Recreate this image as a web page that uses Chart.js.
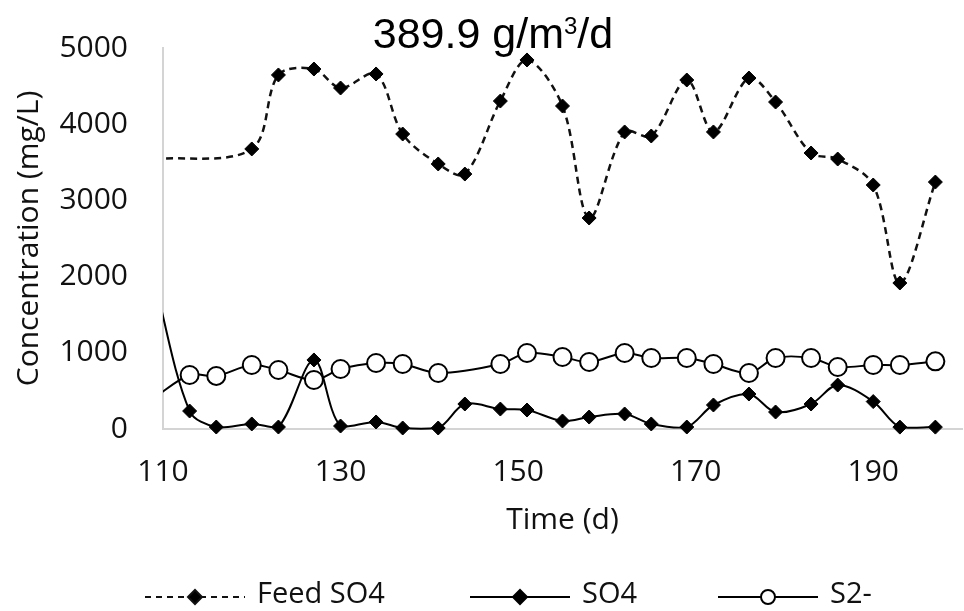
<!DOCTYPE html>
<html>
<head>
<meta charset="utf-8">
<script src="https://cdn.jsdelivr.net/npm/chart.js@4.4.0/dist/chart.umd.min.js"></script>
<style>
  html, body { margin: 0; padding: 0; background: #fff; overflow: hidden; }
  #wrap { width: 964px; height: 611px; }
</style>
</head>
<body>
<div id="wrap"><canvas id="chart"></canvas></div>
<script>
// axis
const xTicks = [110, 130, 150, 170, 190];
const xMin = 110, xMax = 200;
const yMin = 0, yMax = 5000, yStep = 1000;

// Feed SO4 (first point lies left of the axis and is clipped)
const feedDays = [109, 120, 123, 127, 130, 134, 137, 141, 144, 148, 151, 155, 158, 162, 165, 169, 172, 176, 179, 183, 186, 190, 193, 197];
const feedSO4  = [3540, 3675, 4646, 4724, 4475, 4659, 3871, 3478, 3346, 4304, 4843, 4239, 2769, 3898, 3845, 4580, 3898, 4606, 4291, 3622, 3543, 3202, 1916, 3241];

// SO4
const so4Days = [109, 113, 116, 120, 123, 127, 130, 134, 137, 141, 144, 148, 151, 155, 158, 162, 165, 169, 172, 176, 179, 183, 186, 190, 193, 197];
const so4     = [1960, 236, 26, 66, 26, 906, 39, 92, 13, 13, 328, 262, 249, 105, 157, 197, 66, 26, 315, 459, 223, 328, 577, 360, 25, 25];

// S2-
const s2Days = [109, 113, 116, 120, 123, 127, 130, 134, 137, 141, 148, 151, 155, 158, 162, 165, 169, 172, 176, 179, 183, 186, 190, 193, 197];
const s2     = [410, 709, 696, 840, 774, 643, 787, 866, 853, 735, 853, 997, 945, 879, 997, 932, 932, 853, 735, 932, 932, 814, 840, 840, 888];

const titleMain = '389.9 g/m';
const titleSup = '3';
const titleTail = '/d';

const pts = (xs, ys) => xs.map((x, i) => ({ x: x, y: ys[i] }));
const hideOutside = r => c => (c.raw && c.raw.x < xMin ? 0 : r);

const font = "'Open Sans', sans-serif";
const ink = '#111';

const extras = {
    id: 'extras',
    afterDraw(chart) {
        const ctx = chart.ctx;
        ctx.save();

        // title with superscript
        ctx.fillStyle = '#000';
        ctx.textBaseline = 'alphabetic';
        ctx.font = "43px 'Liberation Sans', Arial, sans-serif";
        const w1 = ctx.measureText(titleMain).width;
        const w3 = ctx.measureText(titleTail).width;
        ctx.font = "24px 'Liberation Sans', Arial, sans-serif";
        const w2 = ctx.measureText(titleSup).width;
        let tx = 493 - (w1 + w2 + w3) / 2;
        ctx.font = "43px 'Liberation Sans', Arial, sans-serif";
        ctx.fillText(titleMain, tx, 48);
        tx += w1;
        ctx.font = "24px 'Liberation Sans', Arial, sans-serif";
        ctx.fillText(titleSup, tx, 34);
        tx += w2;
        ctx.font = "43px 'Liberation Sans', Arial, sans-serif";
        ctx.fillText(titleTail, tx, 48);

        // legend
        const starts = [145, 470, 718];
        const ly = 597;
        chart.data.datasets.forEach((ds, i) => {
            const x0 = starts[i];
            ctx.strokeStyle = ds.borderColor;
            ctx.lineWidth = 2;
            ctx.setLineDash(ds.borderDash ? [6, 5] : []);
            ctx.beginPath();
            ctx.moveTo(x0, ly);
            ctx.lineTo(x0 + 100, ly);
            ctx.stroke();
            ctx.setLineDash([]);
            ctx.fillStyle = ds.pointBackgroundColor;
            ctx.lineWidth = 2;
            Chart.helpers.drawPoint(ctx, { pointStyle: ds.pointStyle, radius: 7, borderWidth: 2, rotation: 0 }, x0 + 50, ly);
            ctx.fillStyle = ink;
            ctx.font = '29px ' + font;
            ctx.textBaseline = 'middle';
            ctx.fillText(ds.label, x0 + 112, ly - 2);
        });
        ctx.restore();
    }
};

new Chart(document.getElementById('chart'), {
    type: 'line',
    data: {
        datasets: [
            {
                label: 'Feed SO4',
                data: pts(feedDays, feedSO4),
                borderColor: '#111',
                borderWidth: 2.5,
                borderDash: [7, 5],
                tension: 0.33,
                pointStyle: 'rectRot',
                pointRadius: hideOutside(7),
                pointBackgroundColor: '#000',
                pointBorderColor: '#000',
                pointBorderWidth: 1,
                clip: { left: 0, top: false, right: false, bottom: false }
            },
            {
                label: 'SO4',
                data: pts(so4Days, so4),
                borderColor: '#000',
                borderWidth: 2,
                tension: 0.33,
                pointStyle: 'rectRot',
                pointRadius: hideOutside(7),
                pointBackgroundColor: '#000',
                pointBorderColor: '#000',
                pointBorderWidth: 1,
                clip: { left: 0, top: false, right: false, bottom: false }
            },
            {
                label: 'S2-',
                data: pts(s2Days, s2),
                borderColor: '#000',
                borderWidth: 2,
                tension: 0.33,
                pointStyle: 'circle',
                pointRadius: hideOutside(9),
                pointBackgroundColor: '#fff',
                pointBorderColor: '#000',
                pointBorderWidth: 2,
                clip: { left: 0, top: false, right: false, bottom: false }
            }
        ]
    },
    options: {
        responsive: true,
        maintainAspectRatio: false,
        animation: false,
        events: [],
        layout: { autoPadding: false, padding: { top: 48, right: 2, bottom: 73, left: 0 } },
        plugins: {
            legend: { display: false },
            tooltip: { enabled: false },
            title: { display: false }
        },
        scales: {
            x: {
                type: 'linear',
                min: xMin,
                max: xMax,
                afterBuildTicks: s => { s.ticks = xTicks.map(v => ({ value: v })); },
                afterFit: s => { s.height = 109; s.paddingLeft = 0; s.paddingRight = 0; },
                grid: { display: false, drawTicks: true, tickLength: 22, tickColor: 'rgba(0,0,0,0)' },
                border: { display: true, color: '#d4d4d4', width: 2 },
                ticks: { color: ink, font: { family: font, size: 30 }, padding: 3, maxRotation: 0 },
                title: { display: true, text: 'Time (d)', color: ink, font: { family: font, size: 30 }, padding: 0 }
            },
            y: {
                min: yMin,
                max: yMax,
                afterFit: s => { s.width = 163; s.paddingTop = 0; s.paddingBottom = 0; },
                grid: { display: false, drawTicks: false },
                border: { display: true, color: '#d4d4d4', width: 2 },
                ticks: { stepSize: yStep, color: ink, font: { family: font, size: 30 }, padding: 35, callback: v => String(v) },
                title: { display: true, text: 'Concentration (mg/L)', color: ink, font: { family: font, size: 30 }, padding: { top: 11, bottom: 0 } }
            }
        }
    },
    plugins: [extras]
});
</script>
</body>
</html>
